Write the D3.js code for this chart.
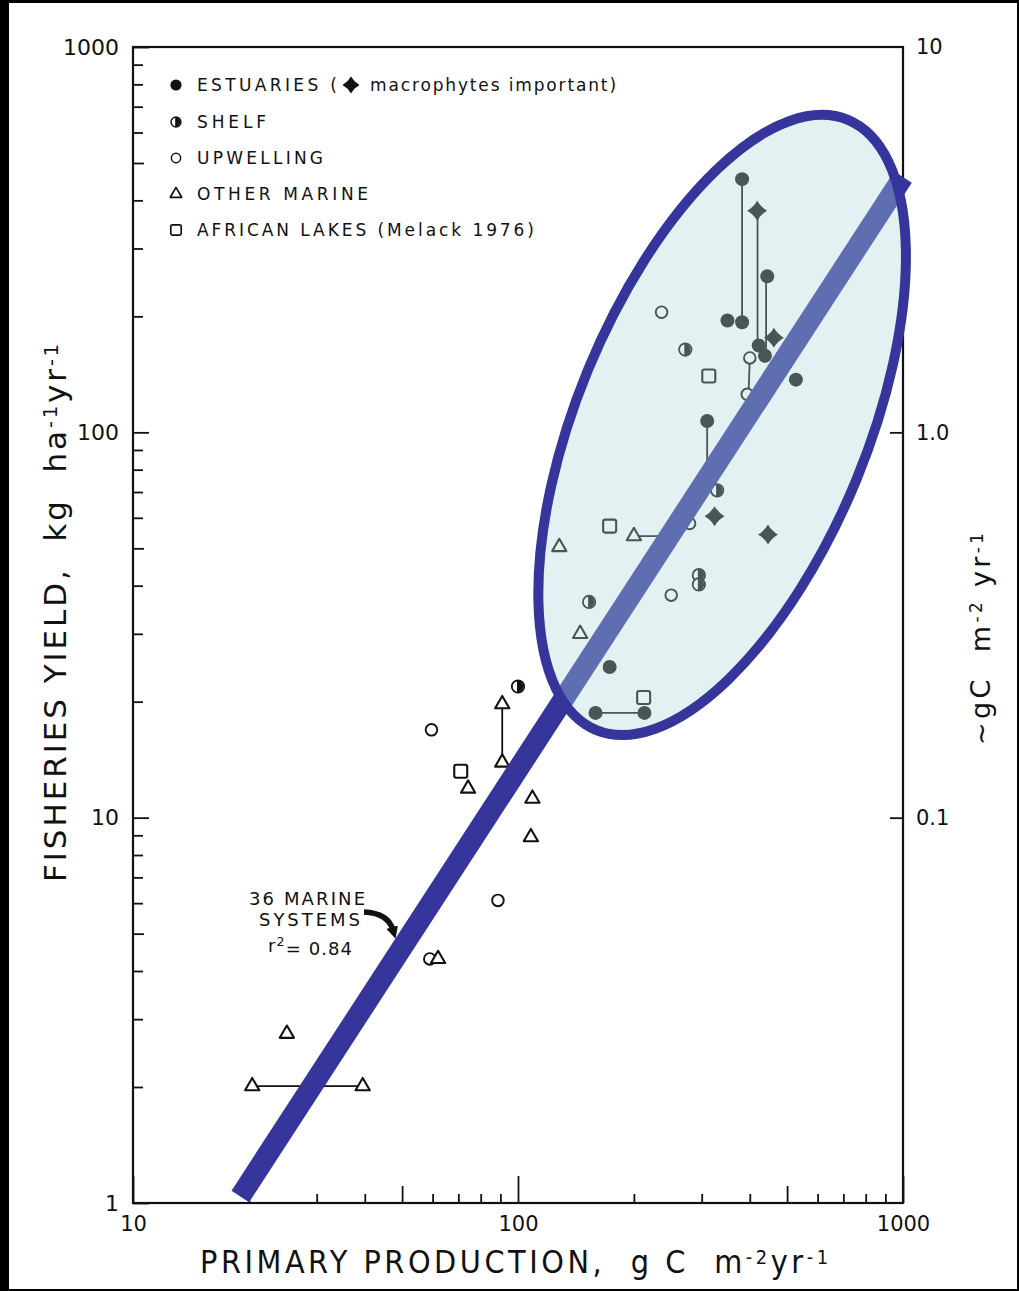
<!DOCTYPE html>
<html>
<head>
<meta charset="utf-8">
<title>Fisheries yield vs primary production</title>
<script src="https://cdn.jsdelivr.net/npm/d3@7.9.0/dist/d3.min.js"></script>
<style>
  html, body { margin: 0; padding: 0; background: #000; }
  svg { display: block; }
  text { white-space: pre; }
</style>
</head>
<body>
<svg id="chart"></svg>
<script>
// values: primary production (g C m-2 yr-1) vs fisheries yield (kg ha-1 yr-1)
const estuaryX = [382, 382, 350, 422, 444, 438, 527, 310, 173, 159, 213];
const estuaryY = [454, 193, 195, 168, 254, 158, 137, 107, 24.6, 18.7, 18.7];

const macrophyteX = [418, 462, 324, 446];
const macrophyteY = [376, 176, 60.6, 54.3];

const shelfX = [272, 329, 295, 295, 153, 100];
const shelfY = [164, 70.7, 42.6, 40.3, 36.3, 21.9];

const upwellingX = [236, 400, 394, 279, 250, 59.6, 88.7, 59.0];
const upwellingY = [205, 156, 125.5, 58.0, 37.8, 16.9, 6.1, 4.3];

const otherX = [128, 200, 145, 91, 91, 74.2, 109, 108, 62, 25.1, 20.4, 39.5];
const otherY = [50.4, 53.8, 30.0, 19.7, 13.9, 11.9, 11.2, 8.9, 4.3, 2.75, 2.01, 2.01];

const lakeX = [173, 313, 212, 71];
const lakeY = [57.1, 140, 20.5, 13.2];

// ranges joining two estimates for one system
const rangeX0 = [382, 419, 441, 159, 310, 400, 200, 91, 20.4];
const rangeY0 = [454, 376, 254, 18.7, 107, 156, 53.8, 19.7, 2.01];
const rangeX1 = [382, 419, 441, 213, 310, 397, 252, 91, 39.5];
const rangeY1 = [193, 168, 158, 18.7, 78, 125.5, 53.8, 13.9, 2.01];

// regression for the 36 marine systems
const fitX = [19, 1000];
const fitY = [1.04, 460];
const fitR2 = 0.84;

// centre of the highlighted cloud, in data units
const cloudX = 339;
const cloudY = 104.5;

// ticks
const xTickValues = [10, 20, 30, 40, 50, 60, 70, 80, 90, 100, 200, 300, 400, 500, 600, 700, 800, 900, 1000];
const xTickLabels = [10, 100, 1000];
const yTickValues = [1, 2, 3, 4, 5, 6, 7, 8, 9, 10, 20, 30, 40, 50, 60, 70, 80, 90, 100, 200, 300, 400, 500, 600, 700, 800, 900, 1000];
const yTickLabels = [1, 10, 100, 1000];
const rightTickValues = [10, 100, 1000];
const rightTickText = ["0.1", "1.0", "10"];

const legendKeys = ["estuary", "shelf", "upwelling", "other", "lake"];
const legendText = ["ESTUARIES (", "SHELF", "UPWELLING", "OTHER MARINE", "AFRICAN LAKES (Melack 1976)"];
const legendNote = "macrophytes important)";

// ---------------------------------------------------------------
const W = 1019, H = 1291;
const plot = { left: 133, right: 903, top: 47, bottom: 1203 };
const ink = "#111";
const blue = "#35359b";

const svg = d3.select("#chart")
    .attr("width", W)
    .attr("height", H)
    .attr("font-family", "'DejaVu Sans', sans-serif");

// black scan border round the page
svg.append("rect").attr("width", W).attr("height", H).attr("fill", "#000");
svg.append("rect").attr("x", 9).attr("y", 3).attr("width", W - 11).attr("height", H - 5).attr("fill", "#fff");

const x = d3.scaleLog().domain([10, 1000]).range([plot.left, plot.right]);
const y = d3.scaleLog().domain([1, 1000]).range([plot.bottom, plot.top]);

// tick length by mantissa: decade / five / other
function tickLen(v, big, mid, small) {
    const m = Math.round(v / Math.pow(10, Math.floor(Math.log10(v) + 1e-9)));
    return m === 1 ? big : m === 5 ? mid : small;
}

// bottom axis (ticks point inward)
const gx = svg.append("g")
    .attr("transform", `translate(0,${plot.bottom})`)
    .call(d3.axisBottom(x).tickValues(xTickValues).tickSize(0).tickSizeOuter(0)
        .tickFormat(d => xTickLabels.includes(d) ? String(d) : ""));
gx.select(".domain").remove();
gx.attr("font-family", null).attr("font-size", 21);
gx.selectAll(".tick line").attr("y2", d => -tickLen(d, 27, 17, 9)).attr("stroke", ink).attr("stroke-width", 1.8);
gx.selectAll(".tick text").attr("y", 13).attr("dy", "0.71em").attr("fill", ink);

// left axis
const gy = svg.append("g")
    .attr("transform", `translate(${plot.left},0)`)
    .call(d3.axisLeft(y).tickValues(yTickValues).tickSize(0).tickSizeOuter(0)
        .tickFormat(d => yTickLabels.includes(d) ? String(d) : ""));
gy.select(".domain").remove();
gy.attr("font-family", null).attr("font-size", 22);
gy.selectAll(".tick line").attr("x2", d => tickLen(d, 16, 11, 10)).attr("stroke", ink).attr("stroke-width", 1.8);
gy.selectAll(".tick text").attr("x", -14).attr("fill", ink);

// right axis, approximate carbon equivalent
const gr = svg.append("g")
    .attr("transform", `translate(${plot.right},0)`)
    .call(d3.axisRight(y).tickValues(rightTickValues).tickSize(0).tickSizeOuter(0)
        .tickFormat((d, i) => rightTickText[i]));
gr.select(".domain").remove();
gr.attr("font-family", null).attr("font-size", 21);
gr.selectAll(".tick line").attr("x2", d => d === 1000 ? 0 : -13).attr("stroke", ink).attr("stroke-width", 1.8);
gr.selectAll(".tick text").attr("x", 13).attr("fill", ink);

// frame
svg.append("rect")
    .attr("x", plot.left).attr("y", plot.top)
    .attr("width", plot.right - plot.left).attr("height", plot.bottom - plot.top)
    .attr("fill", "none").attr("stroke", ink).attr("stroke-width", 2.2);

// spread letters so a text fills a given width
function spreadTo(text, width) {
    const n = text.node();
    const len = n.getComputedTextLength();
    const chars = n.textContent.length;
    text.attr("letter-spacing", ((width - len) / (chars - 1)).toFixed(2));
}

function addSup(text, s) {
    text.append("tspan").attr("dy", "-0.45em").attr("font-size", "0.62em").text(s);
}

// axis titles
const xTitle = svg.append("text")
    .attr("x", 200).attr("y", 1273)
    .attr("font-family", "'Liberation Sans Narrow', 'DejaVu Sans Condensed', sans-serif")
    .attr("font-size", 32).attr("fill", ink);
xTitle.append("tspan").text("PRIMARY PRODUCTION,  g C  m");
addSup(xTitle, "-2");
xTitle.append("tspan").attr("dy", "0.29em").text("yr");
addSup(xTitle, "-1");
spreadTo(xTitle, 628);

const yTitle = svg.append("text")
    .attr("transform", "translate(66,882) rotate(-90)")
    .attr("font-size", 31).attr("fill", ink);
yTitle.append("tspan").text("FISHERIES YIELD,  kg  ha");
addSup(yTitle, "-1");
yTitle.append("tspan").attr("dy", "0.29em").text("yr");
addSup(yTitle, "-1");
spreadTo(yTitle, 538);

const rTitle = svg.append("text")
    .attr("transform", "translate(990,745) rotate(-90)")
    .attr("font-size", 27).attr("fill", ink);
rTitle.append("tspan").text("~gC  m");
addSup(rTitle, "-2");
rTitle.append("tspan").attr("dy", "0.29em").text(" yr");
addSup(rTitle, "-1");
spreadTo(rTitle, 212);

// marker shapes
const starPath = "M0,-10Q3.6,-3.6 10,0Q3.6,3.6 0,10Q-3.6,3.6 -10,0Q-3.6,-3.6 0,-10Z";
const markers = {
    estuary: g => g.append("circle").attr("r", 7).attr("fill", ink),
    macrophyte: g => g.append("path").attr("d", starPath).attr("fill", ink),
    shelf: g => {
        g.append("circle").attr("r", 6.2).attr("fill", "#fff").attr("stroke", ink).attr("stroke-width", 1.8);
        g.append("path").attr("d", "M-1,-6.2A6.2,6.2 0 0 1 -1,6.2Z").attr("fill", ink);
    },
    upwelling: g => g.append("circle").attr("r", 5.8).attr("fill", "#fff").attr("stroke", ink).attr("stroke-width", 1.9),
    other: g => g.append("path").attr("d", d3.symbol(d3.symbolTriangle, 88)())
        .attr("fill", "#fff").attr("stroke", ink).attr("stroke-width", 2.1).attr("stroke-linejoin", "round"),
    lake: g => g.append("rect").attr("x", -6.5).attr("y", -6.5).attr("width", 13).attr("height", 13).attr("rx", 2)
        .attr("fill", "#fff").attr("stroke", ink).attr("stroke-width", 2.1)
};

// range bars
svg.append("g").selectAll("line")
    .data(d3.range(rangeX0.length))
    .join("line")
    .attr("x1", i => x(rangeX0[i])).attr("y1", i => y(rangeY0[i]))
    .attr("x2", i => x(rangeX1[i])).attr("y2", i => y(rangeY1[i]))
    .attr("stroke", ink).attr("stroke-width", 1.8);

// points
const series = [
    { key: "estuary", xs: estuaryX, ys: estuaryY },
    { key: "macrophyte", xs: macrophyteX, ys: macrophyteY },
    { key: "shelf", xs: shelfX, ys: shelfY },
    { key: "upwelling", xs: upwellingX, ys: upwellingY },
    { key: "other", xs: otherX, ys: otherY },
    { key: "lake", xs: lakeX, ys: lakeY }
];
series.forEach(s => {
    svg.append("g").selectAll("g")
        .data(d3.zip(s.xs, s.ys))
        .join("g")
        .attr("transform", d => `translate(${x(d[0])},${y(d[1])})`)
        .each(function () { markers[s.key](d3.select(this)); });
});

// annotation with arrow
svg.append("defs").append("marker")
    .attr("id", "head").attr("markerUnits", "userSpaceOnUse")
    .attr("viewBox", "0 -6 12 12").attr("refX", 3).attr("refY", 0)
    .attr("markerWidth", 12).attr("markerHeight", 12).attr("orient", "auto")
    .append("path").attr("d", "M0,-6L12,0L0,6Z").attr("fill", ink);

const note = svg.append("g").attr("font-size", 18).attr("fill", ink);
const n1 = note.append("text").attr("x", 249).attr("y", 905).text("36 MARINE");
spreadTo(n1, 116);
const n2 = note.append("text").attr("x", 259).attr("y", 926).text("SYSTEMS");
spreadTo(n2, 101);
const n3 = note.append("text").attr("x", 268).attr("y", 952);
n3.append("tspan").text("r");
n3.append("tspan").attr("dy", "-0.5em").attr("font-size", "0.7em").text("2");
n3.append("tspan").attr("dy", "0.5em").text(`= ${fitR2.toFixed(2)}`);
spreadTo(n3, 84);
svg.append("path")
    .attr("d", "M364,912Q388,913 393,930")
    .attr("fill", "none").attr("stroke", ink).attr("stroke-width", 5.5)
    .attr("marker-end", "url(#head)");

// regression line
svg.append("path")
    .datum(d3.zip(fitX, fitY))
    .attr("d", d3.line().x(d => x(d[0])).y(d => y(d[1])))
    .attr("fill", "none").attr("stroke", blue).attr("stroke-width", 21).attr("stroke-linecap", "butt");

// highlighted cloud: translucent fill over marks, then outline
const cloud = svg.append("g")
    .attr("transform", `translate(${x(cloudX)},${y(cloudY)}) rotate(-67.6)`);
cloud.append("ellipse").attr("rx", 330).attr("ry", 145)
    .attr("fill", "rgb(175,214,218)").attr("fill-opacity", 0.35);
cloud.append("ellipse").attr("rx", 330).attr("ry", 145)
    .attr("fill", "none").attr("stroke", blue).attr("stroke-width", 10);

// legend
const legendRowY = [85, 122, 158, 194, 230];
const legendWidth = [140, 69, 126, 171, 337];
const legend = svg.append("g").attr("font-size", 17).attr("fill", ink);
legendKeys.forEach((k, i) => {
    const g = legend.append("g").attr("transform", `translate(176,${legendRowY[i]}) scale(0.8)`);
    markers[k](g);
    const t = legend.append("text").attr("x", 197).attr("y", legendRowY[i] + 6).text(legendText[i]);
    spreadTo(t, legendWidth[i]);
});
markers.macrophyte(legend.append("g").attr("transform", `translate(351,${legendRowY[0]}) scale(0.85)`));
const noteText = legend.append("text").attr("x", 370).attr("y", legendRowY[0] + 6).text(legendNote);
spreadTo(noteText, 246);
</script>
</body>
</html>
